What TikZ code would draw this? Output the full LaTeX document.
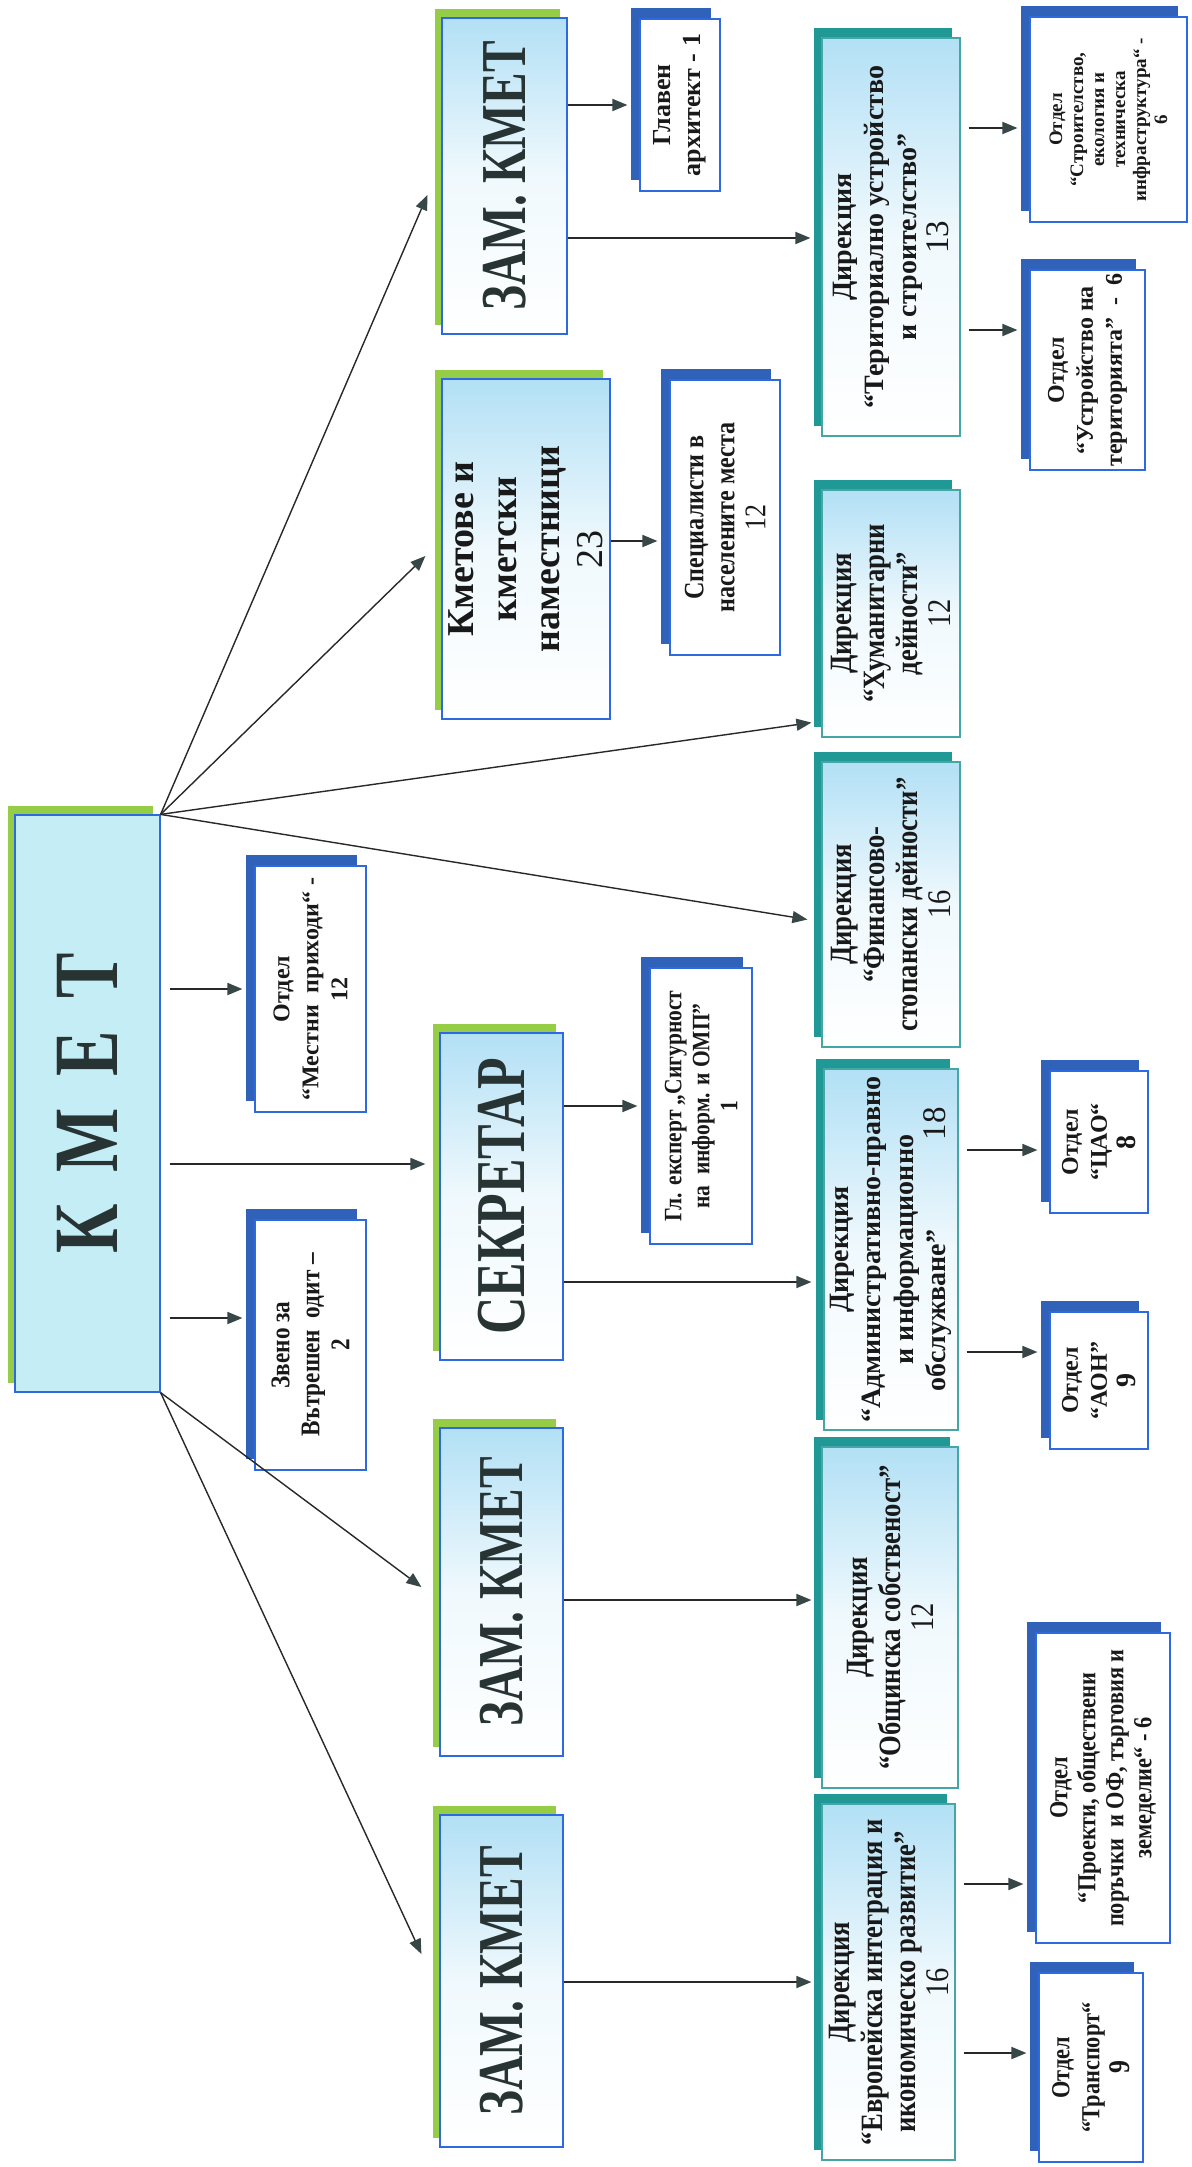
\documentclass[tikz,border=0pt]{standalone}
\usepackage{fontspec}
\setmainfont{Liberation Serif}
\newfontfamily\condf{Liberation Serif}[FakeStretch=0.86]
\newfontfamily\zfont{Liberation Serif}[FakeStretch=0.74]
\usetikzlibrary{arrows.meta,calc}
\definecolor{grn}{RGB}{150,205,70}
\definecolor{tealc}{RGB}{31,152,150}
\definecolor{bluec}{RGB}{48,98,185}
\definecolor{bord}{RGB}{45,105,225}
\definecolor{tealbd}{RGB}{70,165,165}
\definecolor{lb}{RGB}{178,224,245}
\definecolor{kmetfill}{RGB}{196,237,245}
\definecolor{txt}{RGB}{25,25,25}
\definecolor{ztxt}{RGB}{40,52,52}
\definecolor{ln}{RGB}{40,40,40}
\definecolor{ahead}{RGB}{55,70,70}
\newcommand\nmb[1]{{\fontsize{16.5}{17}\selectfont\mdseries #1}}
\newcommand\bx[8]{%
  \fill[#3] (#4,#5) rectangle (#6,#7);
  \node[#2, rotate=90, minimum width={(#7-#5)*0.5pt}, minimum height={(#6-#4)*0.5pt}] (#1) at ({(#4+#6)/2},{(#5+#7)/2}) {#8};}
\tikzset{
  basebox/.style={draw=bord, line width=0.6pt, inner sep=1pt, align=center, text=txt},
  kmetbox/.style={basebox, fill=kmetfill, text=ztxt, font=\zfont\fontsize{46}{50}\selectfont\bfseries},
  zbox/.style={basebox, top color=lb, bottom color=white, middle color=lb!20, text=ztxt, font=\zfont\fontsize{32}{36}\selectfont\bfseries},
  kbox/.style={basebox, top color=lb, bottom color=white, middle color=lb!20, font=\fontsize{19}{21.5}\selectfont\bfseries},
  dirbox/.style={basebox, draw=tealbd, top color=lb, bottom color=white, middle color=lb!20, font=\fontsize{14}{16.2}\selectfont\bfseries},
  cdirbox/.style={dirbox, font=\condf\fontsize{15.5}{16.5}\selectfont\bfseries},
  otbox/.style={basebox, fill=white, draw=bord, font=\fontsize{12}{14.5}\selectfont\bfseries},
  cotbox/.style={otbox, font=\condf\fontsize{12.5}{14}\selectfont\bfseries},
  grnsh/.style={fill=grn, shift={(-7,-9)}},
  tealsh/.style={fill=tealc, shift={(-8,-10)}},
  bluesh/.style={fill=bluec, shift={(-9,-11)}},
  arr/.style={draw=ln, line width=0.9pt, -{Triangle[length=7.5pt,width=6pt,color=ahead]}},
  fan/.style={draw=ln, line width=0.7pt, -{Triangle[length=7.5pt,width=6pt,color=ahead]}}
}
\begin{document}
\begin{tikzpicture}[x=0.5pt,y=-0.5pt]
\fill[white] (0,0) rectangle (1191,2167);
\useasboundingbox (0,0) rectangle (1191,2167);
% main column
\bx{kmet}{kmetbox}{grnsh}{15}{815}{160}{1392}{К\hspace{16pt}М\hspace{16pt}Е\hspace{16pt}Т}
\bx{mest}{otbox}{bluesh}{255}{866}{366}{1112}{Отдел\\“Местни\ \ приходи“ -\\12}
\bx{zveno}{cotbox, font=\condf\fontsize{13.5}{15}\selectfont\bfseries}{bluesh}{255}{1220}{366}{1470}{Звено за\\Вътрешен\ \ одит –\\2}
\bx{z1}{zbox}{grnsh}{442}{18}{567}{334}{ЗАМ. КМЕТ}
\bx{k2}{kbox}{grnsh}{442}{379}{610}{719}{Кметове и\\кметски\\наместници\\{\mdseries 23}}
\bx{sekr}{zbox, font=\zfont\fontsize{35}{38}\selectfont\bfseries}{grnsh}{440}{1033}{563}{1360}{СЕКРЕТАР}
\bx{z2}{zbox}{grnsh}{440}{1428}{563}{1756}{ЗАМ. КМЕТ}
\bx{z3}{zbox}{grnsh}{440}{1815}{563}{2147}{ЗАМ. КМЕТ}
% second level small boxes
\bx{glav}{otbox, font=\fontsize{13}{15}\selectfont\bfseries}{bluesh}{640}{19}{720}{191}{Главен\\архитект - 1}
\bx{spec}{cotbox, font=\condf\fontsize{14}{15.5}\selectfont\bfseries}{bluesh}{670}{380}{780}{655}{Специалисти в\\населените места\\{\mdseries\fontsize{15}{16}\selectfont 12}}
\bx{glexp}{cotbox, font=\condf\fontsize{12.5}{14}\selectfont\bfseries}{bluesh}{650}{968}{752}{1244}{Гл. експерт „Сигурност\\на\ \ информ. и\ ОМП”\\1}
% directorates
\bx{tus}{dirbox}{tealsh}{822}{38}{960}{436}{Дирекция\\“Териториално устройство\\и строителство”\\\nmb{13}}
\bx{hum}{cdirbox}{tealsh}{822}{490}{960}{737}{Дирекция\\“Хуманитарни\\дейности”\\\nmb{12}}
\bx{fin}{cdirbox}{tealsh}{822}{762}{960}{1047}{Дирекция\\“Финансово-\\стопански дейности”\\\nmb{16}}
\bx{adm}{dirbox}{tealsh}{824}{1069}{958}{1430}{Дирекция\\“Административно-правно\\и информационно\\обслужване”\hspace{3.2em}\nmb{18}}
\bx{obs}{cdirbox}{tealsh}{822}{1447}{958}{1788}{Дирекция\\“Общинска собственост”\\\nmb{12}}
\bx{ei}{cdirbox}{tealsh}{822}{1804}{955}{2160}{Дирекция\\“Европейска интеграция и\\икономическо развитие”\\\nmb{16}}
% departments
\bx{str}{otbox, font=\fontsize{9.5}{10.5}\selectfont\bfseries}{bluesh}{1030}{17}{1187}{222}{Отдел\\“Строителство,\\екология и\\техническа\\инфраструктура“ -\\6}
\bx{ustr}{otbox}{bluesh}{1030}{270}{1145}{470}{Отдел\\“Устройство на\\територията”\ \ -\ \ 6}
\bx{cao}{otbox}{bluesh}{1050}{1071}{1148}{1213}{Отдел\\“ЦАО“\\{\fontsize{14}{15}\selectfont 8}}
\bx{aon}{otbox}{bluesh}{1050}{1312}{1148}{1449}{Отдел\\“АОН”\\{\fontsize{14}{15}\selectfont 9}}
\bx{proj}{cotbox, font=\condf\fontsize{13}{14}\selectfont\bfseries}{bluesh}{1036}{1633}{1170}{1943}{Отдел\\“Проекти, обществени\\поръчки\ \ и ОФ, търговия и\\земеделие“ - 6}
\bx{trans}{cotbox, font=\condf\fontsize{13}{15}\selectfont\bfseries}{bluesh}{1039}{1973}{1143}{2162}{Отдел\\“Транспорт“\\{\fontsize{15}{16}\selectfont 9}}
% helper levels
\coordinate (yS) at (0,1164);
\coordinate (yT) at (0,238);
\coordinate (yK) at (0,541);
\coordinate (yZv) at (0,1318);
\coordinate (yA) at (0,1282);
\coordinate (yO) at (0,1600);
\coordinate (yStr) at (0,128);
\coordinate (yUs) at (0,330);
\coordinate (yCao) at (0,1150);
\coordinate (yAon) at (0,1352);
\coordinate (yPr) at (0,1884);
\coordinate (yTr) at (0,2053);
% fan connectors
\draw[fan] (kmet.south east) -- ($(z1.north)+(-14,19)$);
\draw[fan] (kmet.south east) -- ($(k2.north)+(-16,7)$);
\draw[fan] (kmet.south east) -- ($(hum.north west)+(-10,-15)$);
\draw[fan] (kmet.south east) -- ($(fin.north)+(-14,15)$);
\draw[fan] (kmet.south west) -- ($(z2.north)+(-18,-5)$);
\draw[fan] (kmet.south west) -- ($(z3.north)+(-18,-27)$);
% horizontal connectors
\draw[arr] ($(kmet.south |- mest.north)+(9,0)$) -- ($(mest.north)+(-12,0)$);
\draw[arr] ($(kmet.south |- yS)+(9,0)$) -- ($(sekr.north |- yS)+(-14,0)$);
\draw[arr] ($(kmet.south |- yZv)+(9,0)$) -- ($(zveno.north |- yZv)+(-12,0)$);
\draw[arr] (z1.south |- glav.north) -- ($(glav.north)+(-12,0)$);
\draw[arr] (z1.south |- yT) -- ($(tus.north |- yT)+(-11,0)$);
\draw[arr] (k2.south |- yK) -- ($(spec.north |- yK)+(-12,0)$);
\draw[arr] (sekr.south |- glexp.north) -- ($(glexp.north)+(-12,0)$);
\draw[arr] (sekr.south |- yA) -- ($(adm.north |- yA)+(-12,0)$);
\draw[arr] (z2.south |- yO) -- ($(obs.north |- yO)+(-10,0)$);
\draw[arr] (z3.south |- ei.north) -- ($(ei.north)+(-10,0)$);
\draw[arr] ($(tus.south |- yStr)+(8,0)$) -- ($(str.north |- yStr)+(-12,0)$);
\draw[arr] ($(tus.south |- yUs)+(8,0)$) -- ($(ustr.north |- yUs)+(-12,0)$);
\draw[arr] ($(adm.south |- yCao)+(8,0)$) -- ($(cao.north |- yCao)+(-12,0)$);
\draw[arr] ($(adm.south |- yAon)+(8,0)$) -- ($(aon.north |- yAon)+(-12,0)$);
\draw[arr] ($(ei.south |- yPr)+(8,0)$) -- ($(proj.north |- yPr)+(-12,0)$);
\draw[arr] ($(ei.south |- yTr)+(8,0)$) -- ($(trans.north |- yTr)+(-12,0)$);
\end{tikzpicture}
\end{document}
